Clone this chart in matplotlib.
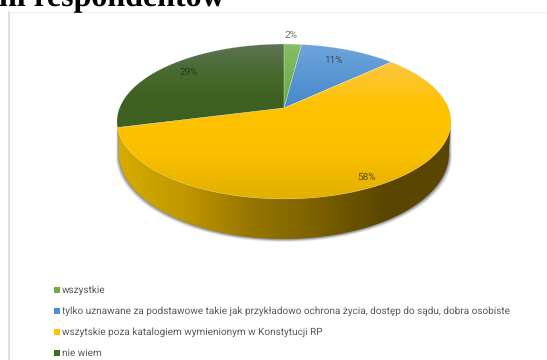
import numpy as np
import matplotlib
matplotlib.use("Agg")
import matplotlib.pyplot as plt
from matplotlib.colors import LinearSegmentedColormap
from matplotlib.patches import Polygon, Rectangle

plt.rcParams["text.hinting"] = "no_hinting"
plt.rcParams["text.hinting_factor"] = 1

values = [2, 11, 58, 29]
labels = ["wszystkie",
          "tylko uznawane za podstawowe takie jak przykładowo ochrona życia, dostęp do sądu, dobra osobiste",
          "wszytskie poza katalogiem wymienionym w Konstytucji RP",
          "nie wiem"]
value_text = ["2%", "11%", "58%", "29%"]
legend_colors = ["#70AD47", "#4A8FD4", "#FFC000", "#3F6B24"]
top_grad = [["#86BE66", "#66AB3E"],
            ["#6FA5DC", "#4588C9"],
            ["#FBC740", "#FFC200", "#FAC000", "#E2B000"],
            ["#5F7455", "#476A2E", "#3E6020", "#3E6020"]]
side_stops = ["#D8AC00", "#C09800", "#967600", "#7A6000", "#5A4600", "#5A4600"]
title_text = "ni respondentów"

W, H = 547, 360
CX, CY = 284, 108
RX, A, B = 164.5, 75.1, -0.174


# circle seen in perspective, angle runs clockwise from the top
def rim(deg):
    t = np.radians(deg)
    u, v = np.sin(t), -np.cos(t)
    d = 1 + B * v
    return CX + RX * u / d, CY + A * v / d


def lower_rim(deg):
    x, y = rim(deg)
    return CX + (x - CX) * 0.988, CY + (y - CY) * 1.105 + 30.5


def grad_fill(ax, poly, colors, horizontal=False, zorder=2):
    cmap = LinearSegmentedColormap.from_list("g", colors)
    x0, y0 = poly.min(axis=0)
    x1, y1 = poly.max(axis=0)
    g = np.linspace(0, 1, 256)
    g = g[None, :] if horizontal else g[:, None]
    im = ax.imshow(g, cmap=cmap, extent=[x0, x1, y1, y0], aspect="auto",
                   zorder=zorder, interpolation="bilinear")
    patch = Polygon(poly, closed=True, transform=ax.transData, fc="none", ec="none")
    ax.add_patch(patch)
    im.set_clip_path(patch)


fig = plt.figure(figsize=(W / 100, H / 100), dpi=100)
ax = fig.add_axes([0, 0, 1, 1])

# soft shadow under the disc
front = np.linspace(98, 262, 120)
lx, ly = lower_rim(front)
for grow, alpha in [(3.0, 0.10), (2.2, 0.16), (1.4, 0.22), (0.6, 0.30)]:
    sx = CX + (lx - CX) * (1 + grow / 165)
    sy = ly + grow
    top_x, top_y = rim(front[::-1])
    ax.fill(np.r_[sx, top_x], np.r_[sy, top_y], color="#3C4048", alpha=alpha, lw=0, zorder=1)

# side wall
tx, ty = rim(front)
side = np.c_[np.r_[lx, tx[::-1]], np.r_[ly, ty[::-1]]]
grad_fill(ax, side, side_stops, horizontal=True)

# top face, one gradient per slice
edges = np.cumsum([0] + values) * 3.6
for i in range(len(values)):
    a = np.linspace(edges[i], edges[i + 1], max(int(values[i] * 4), 8))
    x, y = rim(a)
    poly = np.c_[np.r_[CX, x], np.r_[CY, y]]
    grad_fill(ax, poly, top_grad[i], zorder=3)
    ax.add_patch(Polygon(poly, closed=True, fc="none", ec="#FFFFFF", lw=0.25, alpha=0.5, zorder=4))

# frame of the embedded chart
ax.plot([9, 9], [12, H], color="#D9D9D9", lw=1.2, zorder=0)
ax.plot([9, W], [12, 12], color="#EFEFEF", lw=0.8, zorder=0)

label_pos = [(291, 35), (333, 60), (367, 177), (189, 72)]
label_col = ["#707070", "#404A55", "#5A4A10", "#2E3A26"]
for txt, (x, y), c in zip(value_text, label_pos, label_col):
    ax.text(x, y, txt, fontsize=7.2, family="Roboto", color=c, ha="center", va="center", zorder=5)

# legend rows
leg_y = [290, 311, 332, 353]
for name, c, y in zip(labels, legend_colors, leg_y):
    ax.add_patch(Rectangle((54, y - 3), 6, 6, fc=c, ec="none", zorder=5))
    ax.text(62, y, name, fontsize=7.2, family="Roboto", color="#595959", va="center", zorder=5)

ax.text(-1, 6.5, title_text, fontsize=23, family="Liberation Serif", weight="bold",
        color="black", va="baseline", zorder=6)

ax.set_xlim(0, W)
ax.set_ylim(H, 0)
ax.axis("off")
fig.savefig("out.png", dpi=100, facecolor="white")
